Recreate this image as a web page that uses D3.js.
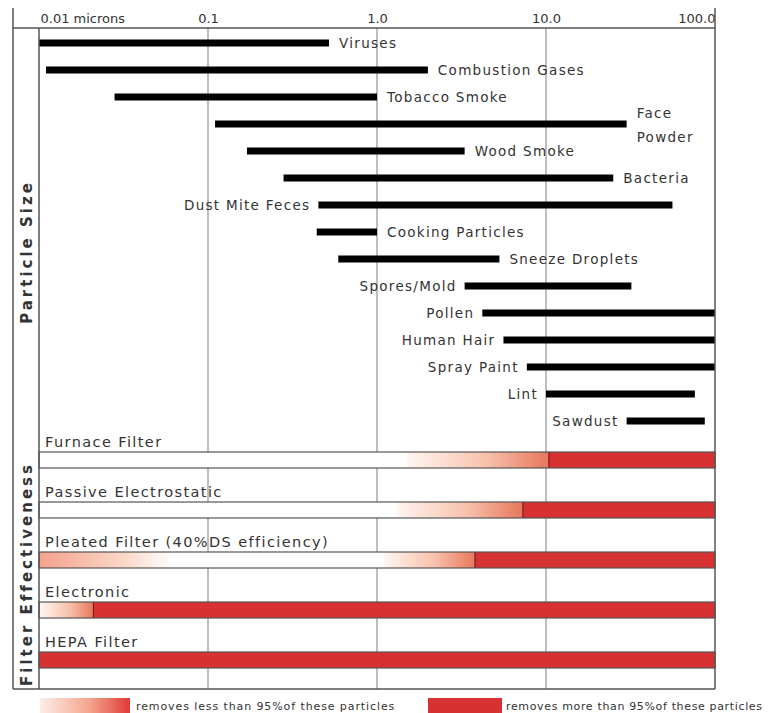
<!DOCTYPE html>
<html>
<head>
<meta charset="utf-8">
<script src="https://cdn.jsdelivr.net/npm/d3@7"></script>
<style>
  html, body { margin: 0; padding: 0; background: #fff; }
  svg { display: block; }
  text { font-family: "DejaVu Sans", Verdana, sans-serif; }
</style>
</head>
<body>
<svg id="chart" width="772" height="713"></svg>
<script>
// ---------- data ----------
const tickValues = [0.01, 0.1, 1, 10, 100];
const tickLabels = ["0.01 microns", "0.1", "1.0", "10.0", "100.0"];

const particles = ["Viruses", "Combustion Gases", "Tobacco Smoke", "Face\nPowder", "Wood Smoke",
  "Bacteria", "Dust Mite Feces", "Cooking Particles", "Sneeze Droplets", "Spores/Mold",
  "Pollen", "Human Hair", "Spray Paint", "Lint", "Sawdust"];
const sizeMin = [0.01, 0.011, 0.028, 0.11, 0.17, 0.28, 0.45, 0.44, 0.59, 3.3, 4.2, 5.6, 7.7, 10, 30];
const sizeMax = [0.52, 2.0, 1.0, 30, 3.3, 25, 56, 1.0, 5.3, 32, 100, 100, 100, 76, 87];
const labelSide = ["right", "right", "right", "right", "right", "right", "left", "right", "right",
  "left", "left", "left", "left", "left", "left"];

const filters = ["Furnace Filter", "Passive Electrostatic", "Pleated Filter (40%DS efficiency)",
  "Electronic", "HEPA Filter"];
// partially effective (<95%), shading rising toward larger sizes
const partialFrom = [1.5, 1.3, 1.1, 0.01, null];
const partialTo   = [10.4, 7.3, 3.8, 0.021, null];
// partially effective, shading fading toward larger sizes
const fadeFrom = [null, null, 0.01, null, null];
const fadeTo   = [null, null, 0.062, null, null];
// highly effective (>95%)
const fullFrom = [10.4, 7.3, 3.8, 0.021, 0.01];
const fullTo   = [100, 100, 100, 100, 100];

const legendLabels = ["removes less than 95%of these particles", "removes more than 95%of these particles"];

// ---------- layout ----------
const svg = d3.select("#chart");
const frameL = 13, plotL = 39, plotR = 715, axisY = 28, frameTop = 8, frameBottom = 689;
const x = d3.scaleLog().domain([0.01, 100]).range([plotL, plotR]);
const yP = d3.scalePoint().domain(particles).range([43, 421]);
const yF = d3.scalePoint().domain(filters).range([452, 652]);
const trackH = 16;
const red = "#d63232";

const defs = svg.append("defs");
const gUp = defs.append("linearGradient").attr("id", "gradUp");
gUp.append("stop").attr("offset", "0%").attr("stop-color", "#fff6f2");
gUp.append("stop").attr("offset", "55%").attr("stop-color", "#f7c2ad");
gUp.append("stop").attr("offset", "100%").attr("stop-color", "#e8775c");
const gDown = defs.append("linearGradient").attr("id", "gradDown");
gDown.append("stop").attr("offset", "0%").attr("stop-color", "#f4a28b");
gDown.append("stop").attr("offset", "60%").attr("stop-color", "#fad3c5");
gDown.append("stop").attr("offset", "100%").attr("stop-color", "#ffffff");
const gLeg = defs.append("linearGradient").attr("id", "gradLeg");
gLeg.append("stop").attr("offset", "0%").attr("stop-color", "#fdeee7");
gLeg.append("stop").attr("offset", "55%").attr("stop-color", "#f3a58e");
gLeg.append("stop").attr("offset", "100%").attr("stop-color", "#e13a36");

// gridlines
svg.append("g").selectAll("line").data(tickValues.slice(1, -1)).join("line")
  .attr("x1", d => x(d)).attr("x2", d => x(d))
  .attr("y1", axisY).attr("y2", frameBottom)
  .attr("stroke", "#a8a8a8").attr("stroke-width", 1.5);

// top axis labels
const axis = d3.axisTop(x).tickValues(tickValues).tickSize(0).tickPadding(0)
  .tickFormat((d, i) => tickLabels[i]);
const ax = svg.append("g").attr("transform", `translate(0,${axisY - 5})`).call(axis);
ax.select(".domain").remove();
ax.selectAll("text")
  .attr("font-size", 13).attr("fill", "#333").attr("font-family", "DejaVu Sans, sans-serif")
  .attr("text-anchor", (d, i) => i === 0 ? "start" : (i === tickValues.length - 1 ? "end" : "middle"))
  .attr("dx", (d, i) => i === 0 ? 1 : 0);

// particle bars
svg.append("g").selectAll("rect").data(particles).join("rect")
  .attr("x", (d, i) => x(sizeMin[i]))
  .attr("width", (d, i) => x(sizeMax[i]) - x(sizeMin[i]))
  .attr("y", d => yP(d) - 3.5).attr("height", 7)
  .attr("fill", "#000");

// particle labels
const pl = svg.append("g").selectAll("text").data(particles).join("text")
  .attr("x", (d, i) => labelSide[i] === "right" ? x(sizeMax[i]) + 10 : x(sizeMin[i]) - 8)
  .attr("y", d => yP(d))
  .attr("text-anchor", (d, i) => labelSide[i] === "right" ? "start" : "end")
  .attr("font-size", 13.5).attr("letter-spacing", 1.3).attr("fill", "#333");
pl.each(function(d) {
  const lines = d.split("\n");
  const t = d3.select(this);
  lines.forEach((ln, k) => {
    t.append("tspan").attr("x", t.attr("x"))
      .attr("dy", k === 0 ? (lines.length === 1 ? "0.35em" : "-0.45em") : "1.75em")
      .text(ln);
  });
});

// filter tracks
const fg = svg.append("g");
fg.selectAll("rect.track").data(filters).join("rect").attr("class", "track")
  .attr("x", plotL).attr("width", plotR - plotL)
  .attr("y", d => yF(d)).attr("height", trackH)
  .attr("fill", "#fff");
fg.selectAll("rect.partial").data(filters.filter((d, i) => partialFrom[i] !== null)).join("rect")
  .attr("class", "partial")
  .attr("x", d => x(partialFrom[filters.indexOf(d)]))
  .attr("width", d => x(partialTo[filters.indexOf(d)]) - x(partialFrom[filters.indexOf(d)]))
  .attr("y", d => yF(d)).attr("height", trackH).attr("fill", "url(#gradUp)");
fg.selectAll("rect.fade").data(filters.filter((d, i) => fadeFrom[i] !== null)).join("rect")
  .attr("class", "fade")
  .attr("x", d => x(fadeFrom[filters.indexOf(d)]))
  .attr("width", d => x(fadeTo[filters.indexOf(d)]) - x(fadeFrom[filters.indexOf(d)]))
  .attr("y", d => yF(d)).attr("height", trackH).attr("fill", "url(#gradDown)");
fg.selectAll("rect.full").data(filters).join("rect").attr("class", "full")
  .attr("x", (d, i) => x(fullFrom[i]))
  .attr("width", (d, i) => x(fullTo[i]) - x(fullFrom[i]))
  .attr("y", d => yF(d)).attr("height", trackH).attr("fill", red);
fg.selectAll("line.edge").data(filters.filter((d, i) => fullFrom[i] > 0.01)).join("line")
  .attr("class", "edge")
  .attr("x1", d => x(fullFrom[filters.indexOf(d)])).attr("x2", d => x(fullFrom[filters.indexOf(d)]))
  .attr("y1", d => yF(d)).attr("y2", d => yF(d) + trackH)
  .attr("stroke", "#7a1c1c").attr("stroke-width", 1.2);
fg.selectAll("rect.outline").data(filters).join("rect").attr("class", "outline")
  .attr("x", plotL).attr("width", plotR - plotL)
  .attr("y", d => yF(d)).attr("height", trackH)
  .attr("fill", "none").attr("stroke", "#555").attr("stroke-width", 1.2);
fg.selectAll("text").data(filters).join("text")
  .attr("x", 45).attr("y", d => yF(d) - 10).attr("dy", "0.35em")
  .attr("font-size", 14.5).attr("letter-spacing", 1.4).attr("fill", "#333")
  .text(d => d);

// frame
const frame = svg.append("g").attr("stroke", "#555").attr("stroke-width", 1.5).attr("fill", "none");
frame.append("line").attr("x1", frameL).attr("x2", frameL).attr("y1", frameTop).attr("y2", frameBottom);
frame.append("line").attr("x1", plotR).attr("x2", plotR).attr("y1", frameTop).attr("y2", frameBottom);
frame.append("line").attr("x1", plotL).attr("x2", plotL).attr("y1", axisY).attr("y2", frameBottom);
frame.append("line").attr("x1", frameL).attr("x2", plotR).attr("y1", axisY).attr("y2", axisY);
frame.append("line").attr("x1", frameL).attr("x2", plotR).attr("y1", frameBottom).attr("y2", frameBottom);

// section titles
const sec = [["Particle Size", 252], ["Filter Effectiveness", 574]];
svg.append("g").selectAll("text").data(sec).join("text")
  .attr("transform", d => `translate(${(frameL + plotL) / 2 + 1},${d[1]}) rotate(-90)`)
  .attr("text-anchor", "middle").attr("dy", "0.35em")
  .attr("font-size", 15).attr("font-weight", "bold").attr("letter-spacing", 3)
  .attr("fill", "#333").text(d => d[0]);

// legend
const lg = svg.append("g");
lg.append("rect").attr("x", 40).attr("y", 698).attr("width", 90).attr("height", 16).attr("fill", "url(#gradLeg)");
lg.append("text").attr("x", 136).attr("y", 706).attr("dy", "0.35em")
  .attr("font-size", 11).attr("letter-spacing", 0.9).attr("fill", "#333").text(legendLabels[0]);
lg.append("rect").attr("x", 428).attr("y", 698).attr("width", 74).attr("height", 16).attr("fill", red);
lg.append("text").attr("x", 506).attr("y", 706).attr("dy", "0.35em")
  .attr("font-size", 11).attr("letter-spacing", 0.65).attr("fill", "#333").text(legendLabels[1]);
</script>
</body>
</html>
